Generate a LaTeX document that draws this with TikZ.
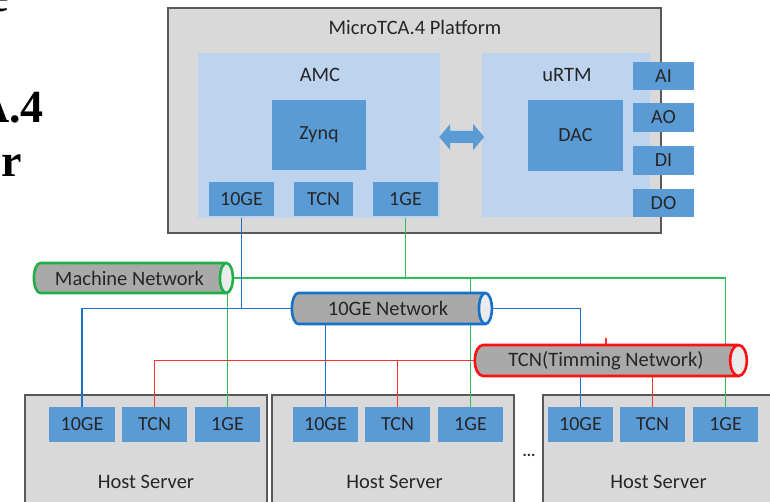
\documentclass[tikz,border=0pt]{standalone}
\usepackage{fontspec}
\setmainfont{Carlito}
\newfontfamily\serifbold{Liberation Serif}[BoldFont={* Bold}]
\usetikzlibrary{shapes.geometric}
\pgfdeclarelayer{back}
\pgfdeclarelayer{lines}
\pgfsetlayers{back,lines,main}
\definecolor{platfill}{HTML}{D9D9D9}
\definecolor{platdraw}{HTML}{595959}
\definecolor{cardfill}{HTML}{BDD3EE}
\definecolor{portfill}{HTML}{5B9BD5}
\definecolor{txt}{HTML}{262626}
\definecolor{netgreen}{HTML}{1FB04A}
\definecolor{netblue}{HTML}{1570C8}
\definecolor{netred}{HTML}{FF1010}
\definecolor{lgreen}{HTML}{2DBE55}
\definecolor{lblue}{HTML}{1A72CA}
\definecolor{lred}{HTML}{FF3030}
\definecolor{cylgray}{HTML}{A9A9A9}
\tikzset{
  platbox/.style={draw=platdraw, fill=platfill, line width=1.3bp, inner sep=0},
  hostbox/.style={draw=platdraw, fill=platfill, line width=1.3bp, inner sep=0},
  cardbox/.style={fill=cardfill, inner sep=0},
  portbox/.style={fill=portfill, inner sep=0, text=txt, font=\fontsize{20bp}{22bp}\selectfont},
  lbl/.style={text=txt, font=\fontsize{20.5bp}{22bp}\selectfont, inner sep=0},
  netcyl/.style={cylinder, shape border rotate=0, aspect=0.9, line width=2.6bp,
     cylinder uses custom fill, cylinder body fill=cylgray, cylinder end fill=white!92!black,
     text=txt, font=\fontsize{20.5bp}{22bp}\selectfont, inner sep=0},
  gline/.style={draw=lgreen, line width=1.5bp},
  bline/.style={draw=lblue, line width=1.5bp},
  rline/.style={draw=lred, line width=1.5bp},
}
\begin{document}
\begin{tikzpicture}[x=1bp,y=-1bp]
\useasboundingbox (0,0) rectangle (770,502);
\clip (0,0) rectangle (770,502);
% cropped fragments of neighbouring text
\node[anchor=base east, inner sep=0, font=\serifbold\bfseries\fontsize{46bp}{50bp}\selectfont] (fragE) at (9,12) {e};
\node[anchor=base east, inner sep=0, font=\serifbold\bfseries\fontsize{46bp}{50bp}\selectfont] (fragA) at (44,123) {A.4};
\node[anchor=base east, inner sep=0, font=\serifbold\bfseries\fontsize{46bp}{50bp}\selectfont] (fragR) at (22,177) {r};

% platform and hosts
\begin{pgfonlayer}{back}
\node[platbox, minimum width=493bp, minimum height=225bp] (plat) at (414.5,120.5) {};
\node[hostbox, minimum width=242bp, minimum height=125bp] (h1) at (146,457.5) {};
\node[hostbox, minimum width=242bp, minimum height=125bp] (h2) at (393,457.5) {};
\node[hostbox, minimum width=242bp, minimum height=125bp] (h3) at (664,457.5) {};
\end{pgfonlayer}
\node[lbl] (platlbl) at (415,27) {MicroTCA.4 Platform};
% AMC
\node[cardbox, minimum width=242bp, minimum height=165bp] (amc) at (319,135.5) {};
\node[lbl] (amclbl) at (320,75) {AMC};
\node[portbox, minimum width=94bp, minimum height=70bp] (zynq) at (319,135) {Zynq};
\node[portbox, minimum width=65bp, minimum height=34bp] (amca) at (241.5,199) {10GE};
\node[portbox, minimum width=59bp, minimum height=34bp] (amcb) at (323.5,199) {TCN};
\node[portbox, minimum width=65bp, minimum height=34bp] (amcc) at (405.5,199) {1GE};
% uRTM
\node[cardbox, minimum width=168bp, minimum height=164bp] (urtm) at (566,135) {};
\node[lbl] (urtmlbl) at (567,75) {uRTM};
\node[portbox, minimum width=95bp, minimum height=71bp] (dac) at (575.5,135.5) {DAC};
\node[portbox, minimum width=61bp, minimum height=28bp] (ai) at (663.5,76) {AI};
\node[portbox, minimum width=61bp, minimum height=29bp] (ao) at (663.5,117.5) {AO};
\node[portbox, minimum width=61bp, minimum height=29bp] (di) at (663.5,160.5) {DI};
\node[portbox, minimum width=61bp, minimum height=28bp] (do) at (663.5,203) {DO};
% double arrow between AMC and uRTM
\fill[portfill] (amc.east |- zynq.center) ++(-1,2) -- ++(11,-13) -- ++(0,7) -- ++(23,0) -- ++(0,-7) -- ++(11,13)
   -- ++(-11,13) -- ++(0,-7) -- ++(-23,0) -- ++(0,7) -- cycle;

% host labels and ports
\node[lbl] (h1lbl) at (146,482) {Host Server};
\node[lbl] (h2lbl) at (394.5,482) {Host Server};
\node[lbl] (h3lbl) at (658.5,482) {Host Server};
\node[lbl, font=\bfseries\fontsize{16bp}{16bp}\selectfont] (dots) at (529,455) {...};
\node[portbox, minimum width=66bp, minimum height=35bp] (h1a) at (82,424.5) {10GE};
\node[portbox, minimum width=65bp, minimum height=35bp] (h1b) at (154.5,424.5) {TCN};
\node[portbox, minimum width=65bp, minimum height=35bp] (h1c) at (227.5,424.5) {1GE};
\node[portbox, minimum width=65bp, minimum height=35bp] (h2a) at (325.5,424.5) {10GE};
\node[portbox, minimum width=65bp, minimum height=35bp] (h2b) at (397.5,424.5) {TCN};
\node[portbox, minimum width=65bp, minimum height=35bp] (h2c) at (470.5,424.5) {1GE};
\node[portbox, minimum width=65bp, minimum height=35bp] (h3a) at (580.5,424.5) {10GE};
\node[portbox, minimum width=65bp, minimum height=35bp] (h3b) at (652.5,424.5) {TCN};
\node[portbox, minimum width=65bp, minimum height=35bp] (h3c) at (725.5,424.5) {1GE};

% networks
\node[netcyl, draw=netgreen, minimum height=199bp, minimum width=30bp] (mnet) at (129.5,278) {Machine Network};
\node[netcyl, draw=netblue, minimum height=200bp, minimum width=31bp] (net10) at (388,308.5) {10GE Network};
\node[netcyl, draw=netred, minimum height=272bp, minimum width=31bp] (tnet) at (606,360.5) {TCN(Timming Network)};

% connectors
\begin{pgfonlayer}{lines}
\draw[gline] (amcc.south) -- (amcc.south |- mnet.east);
\draw[gline] (mnet.east) -| (h3c.north);
\draw[gline] (h2c.north |- mnet.east) -- (h2c.north);
\draw[gline] (h1c.north |- mnet.south) -- (h1c.north);
\draw[bline] (amca.south) -- (amca.south |- net10.west);
\draw[bline] (h1a.north) |- (net10.west);
\draw[bline] (net10.east) -| (h3a.north);
\draw[bline] (h2a.north |- net10.south) -- (h2a.north);
\draw[rline] (h1b.north) |- (tnet.west);
\draw[rline] (h2b.north |- tnet.west) -- (h2b.north);
\draw[rline] (h3b.north |- tnet.south) -- (h3b.north);
\draw[rline] (tnet.north) -- ++(0,-6);
\end{pgfonlayer}
\end{tikzpicture}
\end{document}
